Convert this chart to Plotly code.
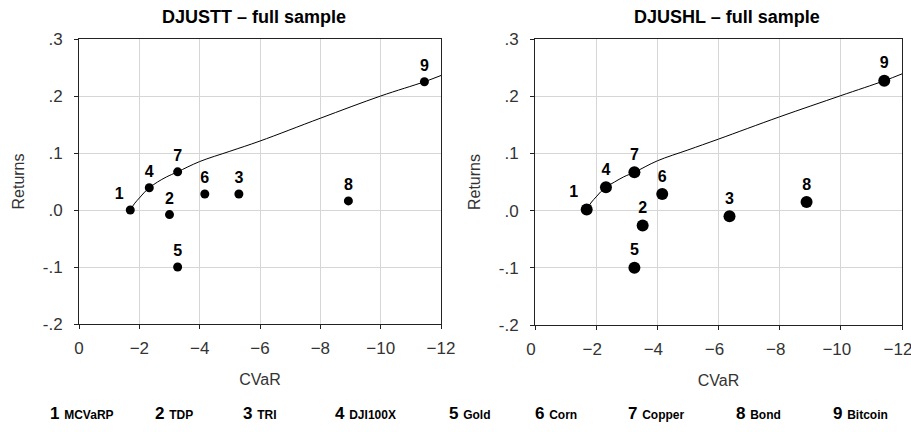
import plotly.graph_objects as go
from plotly.subplots import make_subplots

# point numbers and asset names
labels = ["1", "2", "3", "4", "5", "6", "7", "8", "9"]
assets = ["MCVaRP", "TDP", "TRI", "DJI100X", "Gold", "Corn", "Copper", "Bond", "Bitcoin"]

# DJUSTT - full sample
cvar_tt = [-1.70, -3.00, -5.30, -2.33, -3.27, -4.17, -3.27, -8.93, -11.45]
ret_tt = [0.000, -0.008, 0.028, 0.039, -0.100, 0.028, 0.067, 0.016, 0.225]
front_x_tt = [-1.70, -1.85, -2.00, -2.15, -2.33, -2.60, -2.90, -3.27, -4.00, -5.00, -6.00, -8.00, -10.00, -11.45, -12.00]
front_y_tt = [0.000, 0.012, 0.021, 0.030, 0.039, 0.049, 0.058, 0.067, 0.085, 0.103, 0.121, 0.161, 0.200, 0.225, 0.236]

# DJUSHL - full sample
cvar_hl = [-1.69, -3.52, -6.36, -2.32, -3.25, -4.16, -3.25, -8.88, -11.42]
ret_hl = [0.002, -0.026, -0.010, 0.041, -0.100, 0.029, 0.067, 0.015, 0.227]
front_x_hl = [-1.69, -1.85, -2.00, -2.15, -2.32, -2.60, -2.90, -3.25, -4.00, -5.00, -6.00, -8.00, -10.00, -11.42, -12.00]
front_y_hl = [0.002, 0.015, 0.024, 0.033, 0.041, 0.050, 0.059, 0.067, 0.087, 0.106, 0.125, 0.164, 0.201, 0.227, 0.239]

titles = ["DJUSTT \u2013 full sample", "DJUSHL \u2013 full sample"]
x_ticks = [0, -2, -4, -6, -8, -10, -12]
y_ticks = [-0.2, -0.1, 0.0, 0.1, 0.2, 0.3]
y_ticktext = ["-.2", "-.1", ".0", ".1", ".2", ".3"]

W, H = 911, 432
font = "Arial, Liberation Sans, sans-serif"

fig = make_subplots(rows=1, cols=2)

panels = [
    (cvar_tt, ret_tt, front_x_tt, front_y_tt, 9),
    (cvar_hl, ret_hl, front_x_hl, front_y_hl, 12),
]
for i, (cx, ry, fx, fy, msize) in enumerate(panels):
    col = i + 1
    fig.add_trace(go.Scatter(
        x=fx, y=fy, mode="lines", line=dict(color="black", width=1, shape="spline"),
        hoverinfo="skip", showlegend=False), row=1, col=col)
    pos = ["top left" if lab == "1" else "top center" for lab in labels]
    fig.add_trace(go.Scatter(
        x=cx, y=ry, mode="markers+text", text=["<b>%s</b>" % l for l in labels],
        textposition=pos, textfont=dict(size=16, color="black", family=font),
        marker=dict(color="black", size=msize), showlegend=False), row=1, col=col)

axis_common = dict(
    ticks="outside", ticklen=4, tickcolor="#222", showline=True, mirror=True,
    linecolor="#222", linewidth=1, gridcolor="#d6d6d6", zeroline=False, automargin=False,
    ticklabeloverflow="allow",
    tickfont=dict(size=17, color="#333", family=font),
)

fig.update_xaxes(range=[0, -12], tickvals=x_ticks, ticklabelstandoff=5,
                 title=dict(text="CVaR", font=dict(size=16, color="#333", family=font), standoff=16),
                 **axis_common)
fig.update_yaxes(range=[-0.2, 0.3], tickvals=y_ticks, ticktext=y_ticktext, ticklabelstandoff=8,
                 title=dict(text="Returns", font=dict(size=16, color="#333", family=font), standoff=14),
                 **axis_common)

# reversed axis: a positive shift moves the labels left, keeping "-12" inside the page
fig.update_layout(
    xaxis=dict(domain=[79 / W, 441 / W]),
    xaxis2=dict(domain=[535 / W, 902 / W], ticklabelshift=4),
    yaxis=dict(domain=[1 - 324 / H, 1 - 39 / H]),
    yaxis2=dict(domain=[1 - 325 / H, 1 - 39 / H]),
)

title_x = [254 / W, 727 / W]
for t, tx in zip(titles, title_x):
    fig.add_annotation(x=tx, y=1 - 17 / H, xref="paper", yref="paper", text="<b>%s</b>" % t,
                       showarrow=False, xanchor="center", yanchor="middle",
                       font=dict(size=18, color="black", family=font))

# bottom key
key_x = [48, 153, 241, 333, 447, 533, 626, 734, 831]
for lab, name, kx in zip(labels, assets, key_x):
    fig.add_annotation(x=kx / W, y=1 - 413 / H, xref="paper", yref="paper",
                       text="<b>%s</b> <b><span style='font-size:12px'>%s</span></b>" % (lab, name),
                       showarrow=False, xanchor="left", yanchor="middle",
                       font=dict(size=17, color="black", family=font))

fig.update_layout(
    width=W, height=H, margin=dict(l=0, r=0, t=0, b=0),
    paper_bgcolor="white", plot_bgcolor="white",
    font=dict(family=font, color="#333"),
)

# page body has an 8px default margin; remove it so the figure fills the window
fig.write_html("out.html", config={"displayModeBar": False},
               post_script="document.body.style.margin='0';")
